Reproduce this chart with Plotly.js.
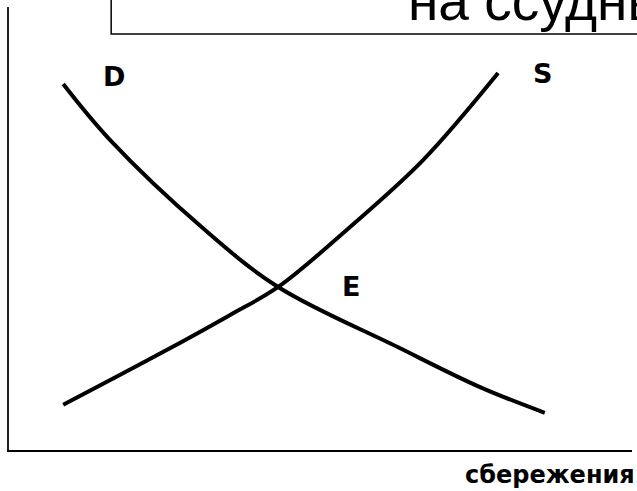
<!DOCTYPE html>
<html>
<head>
<meta charset="utf-8">
<script src="https://cdn.plot.ly/plotly-3.0.1.min.js"></script>
<style>html,body{margin:0;padding:0;background:#fff;}#chart{width:637px;height:491px;}</style>
</head>
<body>
<div id="chart"></div>
<script>
// Demand curve D (savings on x, rate on y) (0-100 scale)
const demandX = [8.7, 16.2, 31.1, 43.2, 62.3, 75.6, 86.0];
const demandY = [82.6, 70.0, 50.1, 36.8, 23.3, 14.2, 8.4];
// Supply curve S
const supplyX = [8.7, 24.7, 35.5, 43.2, 54.7, 66.5, 78.5];
const supplyY = [10.2, 22.1, 30.5, 36.8, 50.3, 65.5, 85.1];
// Labels
const curveLabels = ["D", "S", "E"];
const titleText = "на ссудный капитал";
const xAxisLabel = "сбережения";

const FONT = "Liberation Sans, Arial, sans-serif";
const BOLD_FONT = "DejaVu Sans, Liberation Sans, sans-serif";
const lineStyle = {color: "#000", width: 4, shape: "spline", smoothing: 1.0};

const traces = [
  {x: demandX, y: demandY, mode: "lines", line: lineStyle, name: curveLabels[0], hoverinfo: "skip"},
  {x: supplyX, y: supplyY, mode: "lines", line: lineStyle, name: curveLabels[1], hoverinfo: "skip"}
];

const lbl = (text, x, y, size) => ({
  text: "<b>" + text + "</b>",
  x: x, y: y, xref: "x", yref: "y", showarrow: false,
  xanchor: "center", yanchor: "middle",
  font: {family: BOLD_FONT, size: size, color: "#000"}
});

const layout = {
  width: 637, height: 491,
  margin: {l: 9, r: 5, t: 7, b: 41, pad: 0},
  paper_bgcolor: "#fff", plot_bgcolor: "#fff",
  showlegend: false,
  xaxis: {range: [0, 100], showgrid: false, zeroline: false, showticklabels: false, ticks: "",
          showline: true, linecolor: "#000", linewidth: 2, fixedrange: true},
  yaxis: {range: [0, 100], showgrid: false, zeroline: false, showticklabels: false, ticks: "",
          showline: true, linecolor: "#222", linewidth: 2, fixedrange: true},
  shapes: [
    {type: "rect", xref: "paper", yref: "paper", x0: 0.164, x1: 1.2, y0: 0.939, y1: 1.2,
     line: {color: "#000", width: 1.5}, fillcolor: "rgba(0,0,0,0)", layer: "above"}
  ],
  annotations: [
    lbl(curveLabels[0], 16.9, 84.3, 27),
    lbl(curveLabels[1], 85.6, 84.9, 27),
    lbl(curveLabels[2], 54.9, 37.0, 27),
    {text: titleText, xref: "paper", yref: "paper", x: 0.637, y: 0.939, xanchor: "left", yanchor: "bottom",
     showarrow: false, font: {family: FONT, size: 55, color: "#000"}},
    {text: "<b>" + xAxisLabel + "</b>", xref: "paper", yref: "paper", x: 1.008, y: -0.057,
     xanchor: "right", yanchor: "middle", showarrow: false, font: {family: BOLD_FONT, size: 24, color: "#000"}}
  ]
};

Plotly.newPlot("chart", traces, layout, {staticPlot: true, displayModeBar: false});
</script>
</body>
</html>
